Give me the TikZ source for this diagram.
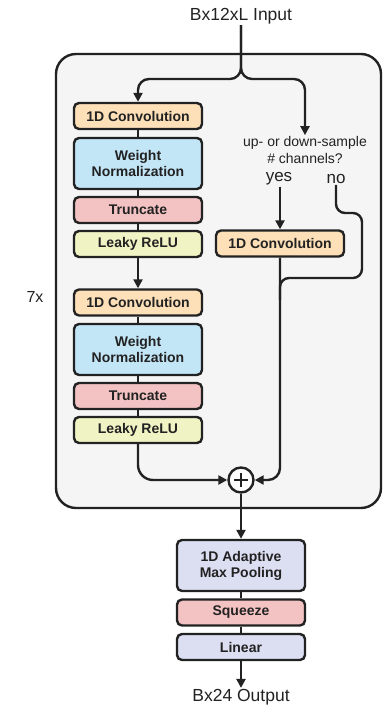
\documentclass[tikz,border=0pt]{standalone}
\usepackage{fontspec}
\setmainfont{Liberation Sans}
\usetikzlibrary{arrows.meta}
\definecolor{linec}{HTML}{222222}
\definecolor{bgc}{HTML}{F5F5F5}
\definecolor{convc}{HTML}{FDDFB8}
\definecolor{normc}{HTML}{C3E6F7}
\definecolor{truncc}{HTML}{F3C2C2}
\definecolor{reluc}{HTML}{F0F4C4}
\definecolor{poolc}{HTML}{DCDFF2}
\tikzset{
  layer/.style={draw=linec, line width=2.4pt, rounded corners=5pt, minimum width=128pt,
    minimum height=26pt, align=center, font=\fontsize{14}{16}\selectfont\bfseries, text=linec},
  tall/.style={layer, minimum height=51pt},
  link/.style={draw=linec, line width=2.4pt},
  arr/.style={link, -{Triangle[length=9pt,width=9pt]}},
  lbl/.style={text=linec, inner sep=1pt}
}
\begin{document}
\begin{tikzpicture}[x=1pt,y=-1pt]
\useasboundingbox (0,0) rectangle (383,708);
% repeated block
\path[draw=linec, fill=bgc, line width=2.4pt, rounded corners=20pt] (56,54) rectangle (381,508);
\node[lbl, font=\fontsize{16}{18}\selectfont] (rep) at (35,297) {7x};
% input and output
\node[lbl, font=\fontsize{17.5}{19}\selectfont] (in) at (241,16) {Bx12xL Input};
\node[lbl, font=\fontsize{17.5}{19}\selectfont] (out) at (241,697) {Bx24 Output};
% main branch
\node[layer, fill=convc] (c1) at (138,116) {1D Convolution};
\node[tall, fill=normc] (w1) at (138,163.5) {Weight\\Normalization};
\node[layer, fill=truncc] (t1) at (138,210) {Truncate};
\node[layer, fill=reluc] (r1) at (138,244) {Leaky ReLU};
\node[layer, fill=convc] (c2) at (138,302.5) {1D Convolution};
\node[tall, fill=normc] (w2) at (138,349.5) {Weight\\Normalization};
\node[layer, fill=truncc] (t2) at (138,396) {Truncate};
\node[layer, fill=reluc] (r2) at (138,430) {Leaky ReLU};
% residual branch
\node[lbl, align=center, font=\fontsize{14}{17}\selectfont] (q) at (305,150) {up- or down-sample\\\# channels?};
\node[lbl, font=\fontsize{17}{19}\selectfont] (yes) at (279,179) {yes};
\node[lbl, font=\fontsize{17}{19}\selectfont] (no) at (336,179) {no};
\node[layer, fill=convc] (c3) at (280,243.5) {1D Convolution};
\node[circle, draw=linec, fill=white, line width=2.4pt, minimum size=25pt, inner sep=0pt] (add) at (241,480) {};
\coordinate (skip) at (280,278);
% head
\node[tall, fill=poolc] (p) at (241,565.5) {1D Adaptive\\Max Pooling};
\node[layer, fill=truncc] (s) at (241,612.5) {Squeeze};
\node[layer, fill=poolc] (l) at (241,647) {Linear};
% connectors
\path[arr, rounded corners=11pt] (in.south) -- (241,79) -- (c1.north |- 0,79) -- (c1.north);
\path[arr, rounded corners=11pt] (in.south) -- (241,79) -- (305,79) -- (q.north -| 305,0);
\path[link] (c1) -- (w1);
\path[link] (w1) -- (t1);
\path[link] (t1) -- (r1);
\path[arr] (r1) -- (c2);
\path[link] (c2) -- (w2);
\path[link] (w2) -- (t2);
\path[link] (t2) -- (r2);
\path[arr, rounded corners=15pt] (r2.south) |- (add.west);
\path[arr] (yes.south -| c3.north) -- (c3.north);
\path[link, rounded corners=9pt] (no.south) -- (336,213) -- (362,213) -- (362,278) -- (skip) -- (280,300);
\path[arr, rounded corners=12pt] (c3.south) |- (add.east);
\draw[linec, line width=2.4pt] ([xshift=-7pt]add.center) -- ([xshift=7pt]add.center);
\draw[linec, line width=2.4pt] ([yshift=-7pt]add.center) -- ([yshift=7pt]add.center);
\path[arr] (add.south) -- (p.north);
\path[link] (p) -- (s);
\path[link] (s) -- (l);
\path[arr] (l.south) -- (out.north);
\end{tikzpicture}
\end{document}
